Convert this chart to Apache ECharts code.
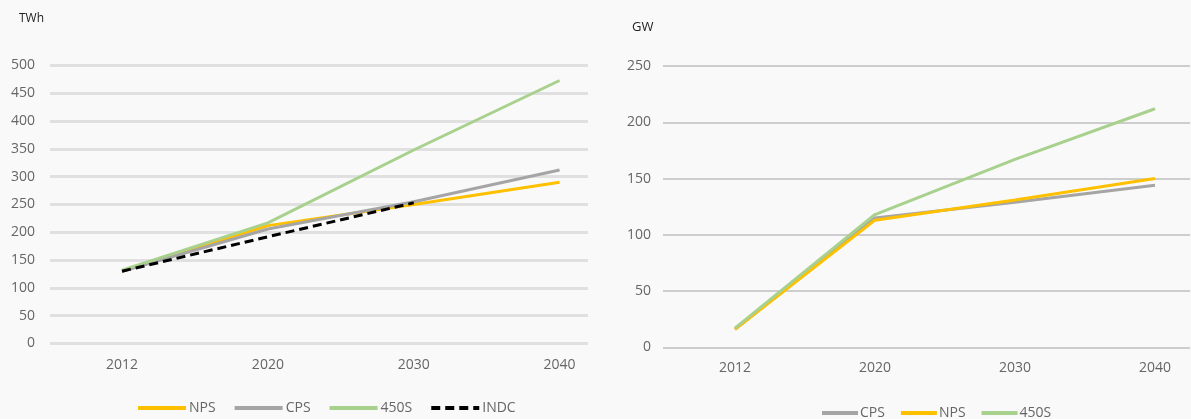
<!DOCTYPE html>
<html>
<head>
<meta charset="utf-8">
<script src="https://cdn.jsdelivr.net/npm/echarts@6/dist/echarts.min.js"></script>
<style>
html,body{margin:0;padding:0;background:#f9f9f9;}
#c{width:1191px;height:419px;}
</style>
</head>
<body>
<div id="c"></div>
<script>
// ---- data ----
const years = ['2012', '2020', '2030', '2040'];
// Left chart (TWh)
const leftNPS  = [130, 212, 250, 290];
const leftCPS  = [130, 206, 255, 312];
const left450S = [132, 217, 348, 473];
const leftINDC = [130, 192, 253];
const leftTicks = [0, 50, 100, 150, 200, 250, 300, 350, 400, 450, 500];
// Right chart (GW)
const rightCPS  = [16, 115, 129, 144];
const rightNPS  = [16, 113, 131, 150];
const right450S = [17, 118, 167, 212];
const rightTicks = [0, 50, 100, 150, 200, 250];

const toPts = arr => arr.map((v, i) => [i, v]);
const yearIdx = years.map((y, i) => i);

const C_NPS = '#FFC000', C_CPS = '#A5A5A5', C_450 = '#A9D18E', C_INDC = '#000000';
const labelFont = {color: '#666666', fontSize: 14, fontFamily: 'Open Sans'};

function xAxis(gridIndex, min, max, margin) {
  return {
    type: 'value', gridIndex, min, max,
    axisLine: {show: false}, axisTick: {show: false}, splitLine: {show: false},
    axisLabel: Object.assign({
      customValues: yearIdx, margin,
      formatter: v => years[Math.round(v)]
    }, labelFont)
  };
}
function yAxis(gridIndex, ticks, margin, gridStyle) {
  return {
    type: 'value', gridIndex, min: ticks[0], max: ticks[ticks.length - 1],
    interval: ticks[1] - ticks[0],
    axisLine: {show: false}, axisTick: {show: false},
    axisLabel: Object.assign({margin}, labelFont),
    splitLine: {lineStyle: gridStyle}
  };
}
function line(name, data, color, xi, yi, extra) {
  return Object.assign({
    type: 'line', name, data: toPts(data), xAxisIndex: xi, yAxisIndex: yi,
    symbol: 'none', animation: false, z: 3,
    lineStyle: {color, width: 3},
    itemStyle: {color}
  }, extra || {});
}

const chart = echarts.init(document.getElementById('c'), null, {renderer: 'canvas'});
chart.setOption({
  backgroundColor: '#f9f9f9',
  animation: false,
  title: [
    {text: 'TWh', left: 14, top: 8, textStyle: {fontSize: 12, fontWeight: 'normal', color: '#222', fontFamily: 'Open Sans'}},
    {text: 'GW', left: 627, top: 16, textStyle: {fontSize: 13, fontWeight: 'normal', color: '#222', fontFamily: 'Open Sans'}}
  ],
  grid: [
    {left: 50, right: 603, top: 65.5, bottom: 75.5},
    {left: 663, right: 1, top: 66, bottom: 71.7}
  ],
  xAxis: [
    xAxis(0, -0.494, 3.195, 15),
    xAxis(1, -0.514, 3.25, 14)
  ],
  yAxis: [
    yAxis(0, leftTicks, 15, {color: '#e0e0e0', width: 3}),
    yAxis(1, rightTicks, 12, {color: '#cdcdcd', width: 2})
  ],
  legend: [
    {
      data: ['NPS', 'CPS', '450S', 'INDC'], left: 136, top: 401, padding: 0,
      itemWidth: 48, itemHeight: 14, itemGap: 17,
      itemStyle: {opacity: 0},
      lineStyle: {width: 4},
      textStyle: Object.assign({padding: [0, 0, 0, -2]}, labelFont)
    },
    {
      data: ['CPS ', 'NPS ', '450S '], left: 820, top: 406, padding: 0,
      itemWidth: 36, itemHeight: 14, itemGap: 14,
      itemStyle: {opacity: 0},
      lineStyle: {width: 4},
      textStyle: Object.assign({padding: [0, 0, 0, -3]}, labelFont),
      formatter: n => n.trim()
    }
  ],
  series: [
    line('NPS', leftNPS, C_NPS, 0, 0),
    line('CPS', leftCPS, C_CPS, 0, 0),
    line('450S', left450S, C_450, 0, 0),
    line('INDC', leftINDC, C_INDC, 0, 0, {lineStyle: {color: C_INDC, width: 3, type: [9, 5]}, z: 4}),
    line('CPS ', rightCPS, C_CPS, 1, 1),
    line('NPS ', rightNPS, C_NPS, 1, 1),
    line('450S ', right450S, C_450, 1, 1)
  ]
});
</script>
</body>
</html>
